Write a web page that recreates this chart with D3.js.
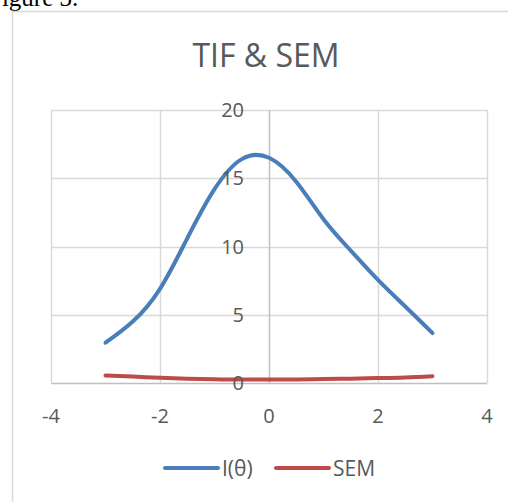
<!DOCTYPE html>
<html>
<head>
<meta charset="utf-8">
<script src="https://cdn.jsdelivr.net/npm/d3@7"></script>
<style>
  body { margin: 0; background: #fff; }
  svg text { font-family: "Open Sans", sans-serif; fill: #595959; }
</style>
</head>
<body>
<div id="chart"></div>
<script>
// ability levels and the two series
var theta = [-3, -2.5, -2, -1.5, -1, -0.5, 0, 0.5, 1, 1.5, 2, 2.5, 3];
var info = [2.95, 4.5, 6.9, 10.6, 14.2, 16.4, 16.5, 14.75, 12.0, 9.7, 7.55, 5.6, 3.65];
var sem = [0.55, 0.47, 0.38, 0.31, 0.27, 0.25, 0.25, 0.26, 0.29, 0.32, 0.36, 0.41, 0.5];
var xTicks = [-4, -2, 0, 2, 4];
var yTicks = [0, 5, 10, 15, 20];
var seriesNames = ["I(θ)", "SEM"];

var width = 508, height = 502;
var plot = { left: 51, right: 487, top: 110, bottom: 383 };
var colors = ["#4a7ebb", "#be4b48"];

var svg = d3.select("#chart").append("svg")
  .attr("width", width)
  .attr("height", height);

svg.append("rect")
  .attr("width", width).attr("height", height)
  .attr("fill", "#fff");

// bit of the document caption cut off above the chart
svg.append("text")
  .attr("x", -12).attr("y", 6)
  .style("font-family", "'Liberation Serif', serif")
  .style("font-size", "25px")
  .style("fill", "#000")
  .text("Figure 3.");

// chart area frame
svg.append("rect")
  .attr("x", 12.5).attr("y", 11.5)
  .attr("width", 520).attr("height", 520)
  .attr("fill", "none")
  .attr("stroke", "#d9d9d9")
  .attr("stroke-width", 1.5);

svg.append("text")
  .attr("x", 266).attr("y", 67)
  .attr("text-anchor", "middle")
  .style("font-size", "32px")
  .text("TIF & SEM");

var x = d3.scaleLinear().domain([-4, 4]).range([plot.left, plot.right]);
var y = d3.scaleLinear().domain([0, 20]).range([plot.bottom, plot.top]);

// gridlines
svg.append("g").selectAll("line")
  .data(yTicks)
  .enter().append("line")
  .attr("x1", plot.left).attr("x2", plot.right)
  .attr("y1", function(d) { return Math.round(y(d)) + 0.5; })
  .attr("y2", function(d) { return Math.round(y(d)) + 0.5; })
  .attr("stroke", function(d) { return d === 0 ? "#bfbfbf" : "#d9d9d9"; })
  .attr("stroke-width", 1.5);

svg.append("g").selectAll("line")
  .data(xTicks)
  .enter().append("line")
  .attr("y1", plot.top).attr("y2", plot.bottom)
  .attr("x1", function(d) { return Math.round(x(d)) + 0.5; })
  .attr("x2", function(d) { return Math.round(x(d)) + 0.5; })
  .attr("stroke", function(d) { return d === 0 ? "#bfbfbf" : "#d9d9d9"; })
  .attr("stroke-width", 1.5);

// series
var line = d3.line()
  .x(function(d) { return x(d[0]); })
  .y(function(d) { return y(d[1]); })
  .curve(d3.curveNatural);

[info, sem].forEach(function(vals, i) {
  svg.append("path")
    .datum(theta.map(function(t, j) { return [t, vals[j]]; }))
    .attr("d", line)
    .attr("fill", "none")
    .attr("stroke", colors[i])
    .attr("stroke-width", 4)
    .attr("stroke-linecap", "round");
});

// axis labels (y axis sits at theta = 0)
svg.append("g").selectAll("text")
  .data(yTicks)
  .enter().append("text")
  .attr("x", x(0) - 25)
  .attr("y", function(d) { return y(d); })
  .attr("dy", "0.36em")
  .attr("text-anchor", "end")
  .style("font-size", "20px")
  .text(function(d) { return d; });

svg.append("g").selectAll("text")
  .data(xTicks)
  .enter().append("text")
  .attr("x", function(d) { return x(d); })
  .attr("y", 423)
  .attr("text-anchor", "middle")
  .style("font-size", "20px")
  .text(function(d) { return d < 0 ? "-" + Math.abs(d) : d; });

// legend
var legendX = [165, 276];
var lg = svg.append("g").selectAll("g")
  .data(seriesNames)
  .enter().append("g")
  .attr("transform", function(d, i) { return "translate(" + legendX[i] + ",468)"; });

lg.append("line")
  .attr("x1", 0).attr("x2", 53)
  .attr("stroke", function(d, i) { return colors[i]; })
  .attr("stroke-width", 4)
  .attr("stroke-linecap", "round");

lg.append("text")
  .attr("x", 57)
  .attr("dy", "0.36em")
  .style("font-size", "21px")
  .text(function(d) { return d; });
</script>
</body>
</html>
